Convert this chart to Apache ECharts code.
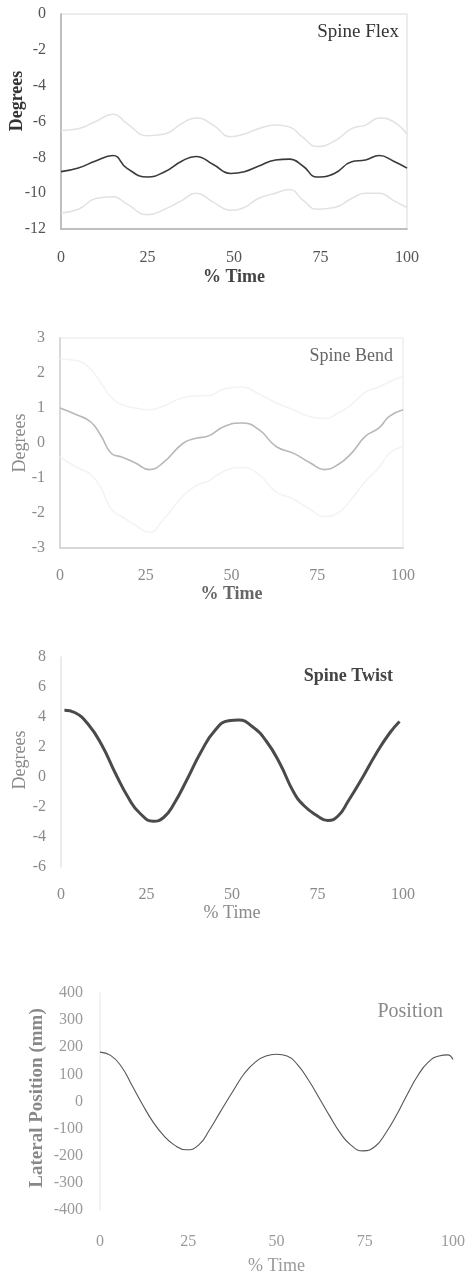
<!DOCTYPE html>
<html><head><meta charset="utf-8">
<script src="https://cdn.jsdelivr.net/npm/echarts@6/dist/echarts.min.js"></script>
<style>html,body{margin:0;padding:0;background:#fff}#c{width:469px;height:1276px}</style>
</head><body><div id="c"></div>
<script>
// ---- data ----
const xTicks = [0, 25, 50, 75, 100];

const flexTime  = [0,5,10,15,19,25,30,35,39,44,49,53,57,62,66,70,74,79,84,88,92,96,100];
const flexMean  = [-8.8,-8.6,-8.2,-7.9,-8.6,-9.1,-8.8,-8.2,-7.95,-8.4,-8.9,-8.8,-8.5,-8.15,-8.1,-8.5,-9.1,-8.9,-8.25,-8.15,-7.9,-8.2,-8.6];
const flexUpper = [-6.5,-6.4,-6.0,-5.6,-6.1,-6.8,-6.7,-6.1,-5.8,-6.2,-6.85,-6.7,-6.4,-6.2,-6.3,-6.9,-7.4,-7.1,-6.4,-6.2,-5.8,-6.0,-6.7];
const flexLower = [-11.1,-10.9,-10.3,-10.2,-10.6,-11.2,-10.9,-10.4,-10.0,-10.5,-10.95,-10.8,-10.3,-10.0,-9.8,-10.4,-10.9,-10.8,-10.3,-10.0,-10.0,-10.4,-10.8];

const bendTime  = [0,5,9,12,15,18,22,26,30,36,40,43,48,53,58,63,68,73,77,81,85,89,93,96,100];
const bendMean  = [1.0,0.8,0.6,0.2,-0.3,-0.4,-0.57,-0.76,-0.57,0,0.14,0.19,0.48,0.57,0.38,-0.1,-0.29,-0.57,-0.76,-0.62,-0.29,0.19,0.43,0.76,0.95];
const bendUpper = [2.4,2.35,2.1,1.7,1.3,1.1,1.0,0.95,1.05,1.3,1.35,1.35,1.55,1.6,1.4,1.15,0.95,0.75,0.7,0.85,1.1,1.45,1.6,1.75,1.9];
const bendLower = [-0.4,-0.7,-0.9,-1.3,-1.9,-2.1,-2.35,-2.55,-2.2,-1.5,-1.2,-1.1,-0.8,-0.7,-0.9,-1.4,-1.6,-1.9,-2.1,-2.0,-1.6,-1.1,-0.7,-0.3,-0.1];

const twistTime = [1,4,8,12,16,20,23,27,30,33,37,41,45,49,52,56,60,64,68,71,75,78,81,84,88,92,96,99];
const twistMean = [4.45,4.3,3.5,2.1,0.2,-1.5,-2.4,-2.95,-2.7,-1.8,-0.1,1.7,3.1,3.75,3.8,3.35,2.4,0.9,-1.0,-1.9,-2.6,-2.9,-2.6,-1.6,-0.1,1.5,2.9,3.7];

const posTime   = [0,3,6,9,12,15,18,21,24.5,28,31,34,38,41,44,47,50,53,56,59,62,65,68,71,74.5,78,81,84,87,90,93,96,98.5,100];
const posValue  = [182,170,130,61,-10,-75,-125,-160,-178,-160,-105,-40,45,105,145,168,174,168,135,80,15,-52,-115,-160,-182,-165,-115,-50,25,95,145,168,172,155];

const panelTitles = ['Spine Flex', 'Spine Bend', 'Spine Twist', 'Position'];
const yNames = ['Degrees', 'Degrees', 'Degrees', 'Lateral Position (mm)'];
const xName = '% Time';

// ---- chart ----
const FONT = '"Liberation Serif", "DejaVu Serif", serif';
const pairs = (xs, ys) => xs.map((x, i) => [x, ys[i]]);

const grids = [
  {left: 61, right: 62, top: 14, height: 215, show: true, borderColor: '#e6e6e6', borderWidth: 1.5},
  {left: 60, right: 66, top: 338, height: 210, show: true, borderColor: '#f0f0f0', borderWidth: 1.5},
  {left: 61, right: 66, top: 657, height: 210, show: false},
  {left: 100, right: 16, top: 993, height: 220, show: false}
];
const labelColors = ['#555', '#8a8a8a', '#8a8a8a', '#9a9a9a'];
const xNameColors = ['#444', '#666', '#8a8a8a', '#9a9a9a'];
const axisLineColors = ['#b0b0b0', '#d0d0d0', '#e6e6e6', '#eeeeee'];
const nameBold = [true, true, false, false];
const yRanges = [[-12, 0, 2], [-3, 3, 1], [-6, 8, 2], [-400, 400, 100]];
const xNameGaps = [39, 36, 37, 47];
const xLabelMargins = [21, 20, 20, 24];

const xAxis = grids.map((g, i) => ({
  type: 'value', gridIndex: i, min: 0, max: 100, interval: 25,
  axisLine: {show: i < 2, onZero: false, lineStyle: {color: axisLineColors[i], width: 1.5}},
  axisTick: {show: false}, splitLine: {show: false},
  axisLabel: {color: labelColors[i], fontFamily: FONT, fontSize: 16, margin: xLabelMargins[i]},
  name: xName, nameLocation: 'middle', nameGap: xNameGaps[i],
  nameTextStyle: {color: xNameColors[i], fontFamily: FONT, fontSize: 18, fontWeight: nameBold[i] ? 'bold' : 'normal'}
}));
const yAxis = grids.map((g, i) => ({
  type: 'value', gridIndex: i, min: yRanges[i][0], max: yRanges[i][1], interval: yRanges[i][2],
  axisLine: {show: true, onZero: false, lineStyle: {color: axisLineColors[i], width: 1.5}},
  axisTick: {show: false}, splitLine: {show: false},
  axisLabel: {color: labelColors[i], fontFamily: FONT, fontSize: 16, margin: i === 3 ? 17 : 15}
}));

const line = (i, xs, ys, color, width) => ({
  type: 'line', xAxisIndex: i, yAxisIndex: i, data: pairs(xs, ys),
  smooth: 0.5, showSymbol: false, symbol: 'none',
  lineStyle: {color: color, width: width}, silent: true
});

const series = [
  line(0, flexTime, flexUpper, '#e2e2e2', 1.5),
  line(0, flexTime, flexLower, '#e2e2e2', 1.5),
  line(0, flexTime, flexMean, '#3a3a3a', 1.6),
  line(1, bendTime, bendUpper, '#f3f3f3', 1.5),
  line(1, bendTime, bendLower, '#f3f3f3', 1.5),
  line(1, bendTime, bendMean, '#b8b8b8', 1.6),
  line(2, twistTime, twistMean, '#4a4a4a', 3),
  line(3, posTime, posValue, '#555', 1.1)
];

const titleTops = [18, 342, 662, 997];
const titleRights = [65, 71, 71, 21];
const titleColors = ['#333', '#666', '#444', '#8a8a8a'];
const titleBold = [false, false, true, false];
const titleSizes = [19, 18, 18, 20];
const title = panelTitles.map((t, i) => ({
  text: t, right: titleRights[i], top: titleTops[i],
  textStyle: {fontFamily: FONT, fontSize: titleSizes[i], color: titleColors[i], fontWeight: titleBold[i] ? 'bold' : 'normal'}
}));

// rotated y-axis names
const yNamePos = [[17, 101], [20, 443], [20, 760], [37, 1098]];
const yNameColors = ['#333', '#888', '#888', '#888'];
const yNameBold = [true, false, false, true];
const yNameSizes = [18, 18, 18, 19];
const graphic = yNames.map((t, i) => ({
  type: 'text', x: yNamePos[i][0], y: yNamePos[i][1], rotation: Math.PI / 2, silent: true,
  style: {text: t, fill: yNameColors[i], font: (yNameBold[i] ? 'bold ' : '') + yNameSizes[i] + 'px ' + FONT,
          align: 'center', verticalAlign: 'middle'}
}));

const chart = echarts.init(document.getElementById('c'), null, {renderer: 'canvas'});
chart.setOption({
  animation: false, backgroundColor: '#fff',
  title, grid: grids, xAxis, yAxis, series, graphic
});
</script></body></html>
